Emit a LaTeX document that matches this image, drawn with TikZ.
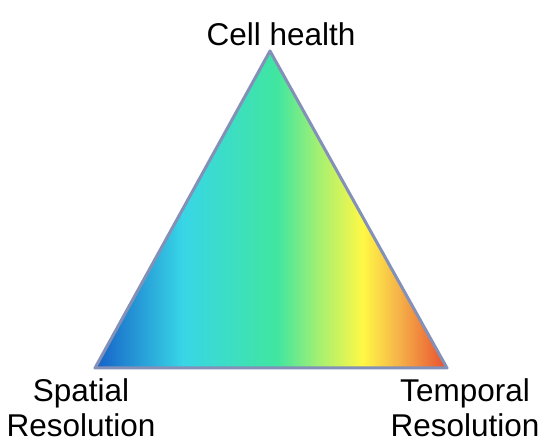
\documentclass[tikz,border=0pt]{standalone}
\usepackage{fontspec}
\setmainfont{Liberation Sans}
\definecolor{edgecol}{HTML}{8390B8}
\definecolor{cA}{HTML}{1560C8}
\definecolor{cB}{HTML}{38D6E6}
\definecolor{cC}{HTML}{40E6A0}
\definecolor{cD}{HTML}{A8F070}
\definecolor{cE}{HTML}{FFF845}
\definecolor{cF}{HTML}{F5B048}
\definecolor{cG}{HTML}{E84E30}
\pgfdeclarehorizontalshading{rainbowshade}{100bp}{color(0bp)=(cA); color(25bp)=(cA); color(37.5bp)=(cB); color(50.85bp)=(cC); color(56.96bp)=(cD); color(63.07bp)=(cE); color(68.3bp)=(cF); color(75bp)=(cG); color(100bp)=(cG)}
\begin{document}
\begin{tikzpicture}[x=1pt,y=-1pt,
  lbl/.style={font=\fontsize{31.5}{35}\selectfont, align=center, inner sep=0pt, text=black}]
\useasboundingbox (0,0) rectangle (546,443);
\coordinate (top) at (270,51);
\coordinate (bl) at (95,368);
\coordinate (br) at (447,368);
\shade[shading=rainbowshade] (top) -- (bl) -- (br) -- cycle;
\draw[edgecol, line width=3pt, line join=round] (top) -- (bl) -- (br) -- cycle;
\node[lbl, anchor=base] (ch) at (281,46) {Cell health};
\node[lbl, anchor=base] (sr) at (81,436) {Spatial\\Resolution};
\node[lbl, anchor=base] (tr) at (465,436) {Temporal\\Resolution};
\end{tikzpicture}
\end{document}
